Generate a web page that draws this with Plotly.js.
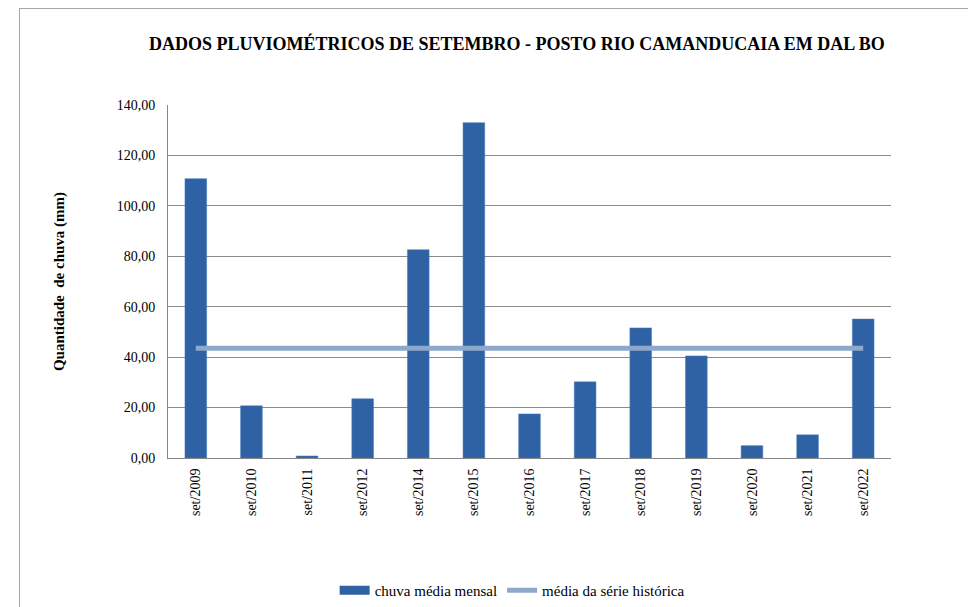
<!DOCTYPE html>
<html><head><meta charset="utf-8">
<script src="https://cdn.plot.ly/plotly-3.0.1.min.js"></script>
<style>html,body{margin:0;padding:0;background:#fff;}#wrap{position:relative;width:968px;height:607px;}#frame{position:absolute;left:19px;top:8px;width:960px;height:620px;border-left:1px solid #a6a6a6;border-top:1px solid #a6a6a6;pointer-events:none;}</style>
</head><body>
<div id="wrap"><div id="chart" style="width:968px;height:607px;"></div><div id="frame"></div></div>
<script>
const categories = ['set/2009','set/2010','set/2011','set/2012','set/2014','set/2015','set/2016','set/2017','set/2018','set/2019','set/2020','set/2021','set/2022'];
const chuvaMediaMensal = [110.8, 20.7, 0.8, 23.5, 82.6, 133.0, 17.5, 30.2, 51.6, 40.5, 4.9, 9.2, 55.1];
const mediaSerieHistorica = [43.5, 43.5, 43.5, 43.5, 43.5, 43.5, 43.5, 43.5, 43.5, 43.5, 43.5, 43.5, 43.5];
const yTicks = [0, 20, 40, 60, 80, 100, 120, 140];

const font = 'Liberation Serif';
const barColor = '#2F62A5';
const traces = [
  {type:'bar', x:categories, y:chuvaMediaMensal, name:'chuva média mensal', showlegend:false,
   marker:{color:barColor, line:{color:'#4a7cc0', width:0.5}}},
  {type:'scatter', mode:'lines', x:[null], y:[null], name:'chuva média mensal',
   line:{color:barColor, width:9}},
  {type:'scatter', mode:'lines', x:categories, y:mediaSerieHistorica, name:'média da série histórica',
   line:{color:'#8EA8CC', width:5}}
];
const layout = {
  width:968, height:607,
  margin:{l:168, r:77, t:105, b:149, autoexpand:false},
  paper_bgcolor:'#fff', plot_bgcolor:'#fff',
  separators:',.',
  font:{family:font, size:14, color:'#000'},
  title:{text:'<b>DADOS PLUVIOMÉTRICOS DE SETEMBRO - POSTO RIO CAMANDUCAIA EM DAL BO</b>',
    font:{family:font, size:18, color:'#000'}, x:0.534, xanchor:'center', y:0.928, yanchor:'middle'},
  bargap:0.61,
  showlegend:true,
  legend:{orientation:'h', x:0.476, xanchor:'center', y:-0.375, yanchor:'middle',
    font:{family:font, size:15, color:'#000'}, itemwidth:30, tracegroupgap:0},
  xaxis:{type:'category', tickangle:-90, tickfont:{family:font, size:14}, ticklabelstandoff:4,
    showline:true, linecolor:'#868686', linewidth:1, ticks:'', showgrid:false, automargin:false},
  yaxis:{range:[0,140], tickvals:yTicks, tickformat:'.2f', tickfont:{family:font, size:14},
    ticklabelstandoff:9,
    showgrid:true, gridcolor:'#8a8a8a', gridwidth:1, zeroline:false,
    showline:true, linecolor:'#868686', linewidth:1, ticks:'', ticklen:0,
    title:{text:'<b>Quantidade  de chuva (mm)</b>', font:{family:font, size:15}, standoff:48},
    automargin:false}
};
Plotly.newPlot('chart', traces, layout, {displayModeBar:false, staticPlot:true});
</script>
</body></html>
